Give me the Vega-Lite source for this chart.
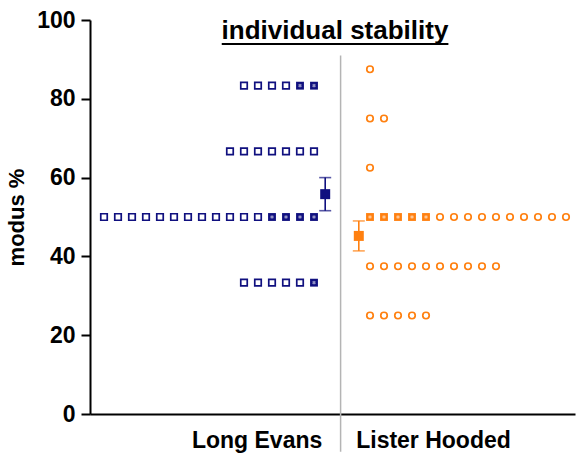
{
  "$schema": "https://vega.github.io/schema/vega-lite/v6.json",
  "width": 485,
  "height": 394,
  "autosize": {"type": "none"},
  "padding": {"left": 90, "top": 20, "right": 1, "bottom": 43},
  "background": "white",
  "config": {"view": {"stroke": null}, "font": "Liberation Sans"},
  "datasets": {
    "points": [
      {"group": "Long Evans", "slot": 11, "value": 83.33, "type": "open"},
      {"group": "Long Evans", "slot": 12, "value": 83.33, "type": "open"},
      {"group": "Long Evans", "slot": 13, "value": 83.33, "type": "open"},
      {"group": "Long Evans", "slot": 14, "value": 83.33, "type": "open"},
      {"group": "Long Evans", "slot": 15, "value": 83.33, "type": "overlap"},
      {"group": "Long Evans", "slot": 16, "value": 83.33, "type": "overlap"},
      {"group": "Long Evans", "slot": 10, "value": 66.67, "type": "open"},
      {"group": "Long Evans", "slot": 11, "value": 66.67, "type": "open"},
      {"group": "Long Evans", "slot": 12, "value": 66.67, "type": "open"},
      {"group": "Long Evans", "slot": 13, "value": 66.67, "type": "open"},
      {"group": "Long Evans", "slot": 14, "value": 66.67, "type": "open"},
      {"group": "Long Evans", "slot": 15, "value": 66.67, "type": "open"},
      {"group": "Long Evans", "slot": 16, "value": 66.67, "type": "open"},
      {"group": "Long Evans", "slot": 1, "value": 50, "type": "open"},
      {"group": "Long Evans", "slot": 2, "value": 50, "type": "open"},
      {"group": "Long Evans", "slot": 3, "value": 50, "type": "open"},
      {"group": "Long Evans", "slot": 4, "value": 50, "type": "open"},
      {"group": "Long Evans", "slot": 5, "value": 50, "type": "open"},
      {"group": "Long Evans", "slot": 6, "value": 50, "type": "open"},
      {"group": "Long Evans", "slot": 7, "value": 50, "type": "open"},
      {"group": "Long Evans", "slot": 8, "value": 50, "type": "open"},
      {"group": "Long Evans", "slot": 9, "value": 50, "type": "open"},
      {"group": "Long Evans", "slot": 10, "value": 50, "type": "open"},
      {"group": "Long Evans", "slot": 11, "value": 50, "type": "open"},
      {"group": "Long Evans", "slot": 12, "value": 50, "type": "open"},
      {"group": "Long Evans", "slot": 13, "value": 50, "type": "overlap"},
      {"group": "Long Evans", "slot": 14, "value": 50, "type": "overlap"},
      {"group": "Long Evans", "slot": 15, "value": 50, "type": "overlap"},
      {"group": "Long Evans", "slot": 16, "value": 50, "type": "overlap"},
      {"group": "Long Evans", "slot": 11, "value": 33.33, "type": "open"},
      {"group": "Long Evans", "slot": 12, "value": 33.33, "type": "open"},
      {"group": "Long Evans", "slot": 13, "value": 33.33, "type": "open"},
      {"group": "Long Evans", "slot": 14, "value": 33.33, "type": "open"},
      {"group": "Long Evans", "slot": 15, "value": 33.33, "type": "open"},
      {"group": "Long Evans", "slot": 16, "value": 33.33, "type": "overlap"},
      {"group": "Lister Hooded", "slot": 20, "value": 87.5, "type": "open"},
      {"group": "Lister Hooded", "slot": 20, "value": 75, "type": "open"},
      {"group": "Lister Hooded", "slot": 21, "value": 75, "type": "open"},
      {"group": "Lister Hooded", "slot": 20, "value": 62.5, "type": "open"},
      {"group": "Lister Hooded", "slot": 20, "value": 50, "type": "overlap"},
      {"group": "Lister Hooded", "slot": 21, "value": 50, "type": "overlap"},
      {"group": "Lister Hooded", "slot": 22, "value": 50, "type": "overlap"},
      {"group": "Lister Hooded", "slot": 23, "value": 50, "type": "overlap"},
      {"group": "Lister Hooded", "slot": 24, "value": 50, "type": "overlap"},
      {"group": "Lister Hooded", "slot": 25, "value": 50, "type": "open"},
      {"group": "Lister Hooded", "slot": 26, "value": 50, "type": "open"},
      {"group": "Lister Hooded", "slot": 27, "value": 50, "type": "open"},
      {"group": "Lister Hooded", "slot": 28, "value": 50, "type": "open"},
      {"group": "Lister Hooded", "slot": 29, "value": 50, "type": "open"},
      {"group": "Lister Hooded", "slot": 30, "value": 50, "type": "open"},
      {"group": "Lister Hooded", "slot": 31, "value": 50, "type": "open"},
      {"group": "Lister Hooded", "slot": 32, "value": 50, "type": "open"},
      {"group": "Lister Hooded", "slot": 33, "value": 50, "type": "open"},
      {"group": "Lister Hooded", "slot": 34, "value": 50, "type": "open"},
      {"group": "Lister Hooded", "slot": 20, "value": 37.5, "type": "open"},
      {"group": "Lister Hooded", "slot": 21, "value": 37.5, "type": "open"},
      {"group": "Lister Hooded", "slot": 22, "value": 37.5, "type": "open"},
      {"group": "Lister Hooded", "slot": 23, "value": 37.5, "type": "open"},
      {"group": "Lister Hooded", "slot": 24, "value": 37.5, "type": "open"},
      {"group": "Lister Hooded", "slot": 25, "value": 37.5, "type": "open"},
      {"group": "Lister Hooded", "slot": 26, "value": 37.5, "type": "open"},
      {"group": "Lister Hooded", "slot": 27, "value": 37.5, "type": "open"},
      {"group": "Lister Hooded", "slot": 28, "value": 37.5, "type": "open"},
      {"group": "Lister Hooded", "slot": 29, "value": 37.5, "type": "open"},
      {"group": "Lister Hooded", "slot": 20, "value": 25, "type": "open"},
      {"group": "Lister Hooded", "slot": 21, "value": 25, "type": "open"},
      {"group": "Lister Hooded", "slot": 22, "value": 25, "type": "open"},
      {"group": "Lister Hooded", "slot": 23, "value": 25, "type": "open"},
      {"group": "Lister Hooded", "slot": 24, "value": 25, "type": "open"}
    ],
    "means": [
      {"group": "Long Evans", "slot": 16.8, "value": 55.8, "lo": 51.6, "hi": 60.0},
      {"group": "Lister Hooded", "slot": 19.2, "value": 45.2, "lo": 41.4, "hi": 49.0}
    ]
  },
  "layer": [
    {
      "data": {"values": [{}]},
      "mark": {"type": "rule", "color": "#b4b4b4", "strokeWidth": 1.5, "clip": false},
      "encoding": {
        "x": {"datum": 17.9, "type": "quantitative", "scale": {"domain": [0, 34.643], "nice": false, "zero": false},
          "title": null,
          "axis": {"values": [11.9, 24.5], "labelExpr": "datum.value < 18 ? 'Long Evans' : 'Lister Hooded'", "ticks": false, "grid": false,
            "domainColor": "black", "domainWidth": 2, "labelFontSize": 23, "labelFontWeight": "bold", "labelColor": "black", "labelPadding": 15, "labelFont": "Liberation Sans"}},
        "y": {"datum": 91, "type": "quantitative", "scale": {"domain": [0, 100], "nice": false}, "title": "modus %",
          "axis": {"values": [0, 10, 20, 30, 40, 50, 60, 70, 80, 90, 100], "labelExpr": "datum.value % 20 == 0 ? datum.label : ''",
            "tickSize": {"condition": {"test": "datum.value % 20 == 0", "value": 9}, "value": 5},
            "tickWidth": 2, "tickColor": "black", "domainColor": "black", "domainWidth": 2, "grid": false,
            "labelFontSize": 23, "labelFontWeight": "bold", "labelColor": "black", "labelPadding": 6, "labelFont": "Liberation Sans",
            "titleFontSize": 22, "titleFontWeight": "bold", "titleColor": "black", "titlePadding": 8, "titleFont": "Liberation Sans"}},
        "y2": {"datum": -9.6}
      }
    },
    {
      "data": {"name": "points"},
      "transform": [{"filter": "datum.type == 'open'"}],
      "mark": {"type": "point", "filled": false, "strokeWidth": 1.7, "size": 42, "opacity": 1},
      "encoding": {
        "x": {"field": "slot", "type": "quantitative", "scale": {"domain": [0, 34.643], "nice": false, "zero": false}, "title": null},
        "y": {"field": "value", "type": "quantitative", "scale": {"domain": [0, 100], "nice": false}, "title": "modus %"},
        "shape": {"field": "group", "type": "nominal", "scale": {"domain": ["Long Evans", "Lister Hooded"], "range": ["square", "circle"]}, "legend": null},
        "color": {"field": "group", "type": "nominal", "scale": {"domain": ["Long Evans", "Lister Hooded"], "range": ["#10107f", "#ff8010"]}, "legend": null}
      }
    },
    {
      "data": {"name": "points"},
      "transform": [{"filter": "datum.type == 'overlap'"}],
      "mark": {"type": "point", "shape": "square", "filled": true, "size": 62, "opacity": 1},
      "encoding": {
        "x": {"field": "slot", "type": "quantitative", "scale": {"domain": [0, 34.643], "nice": false, "zero": false}, "title": null},
        "y": {"field": "value", "type": "quantitative", "scale": {"domain": [0, 100], "nice": false}, "title": "modus %"},
        "color": {"field": "group", "type": "nominal", "scale": {"domain": ["Long Evans", "Lister Hooded"], "range": ["#10107f", "#ff8010"]}, "legend": null}
      }
    },
    {
      "data": {"name": "points"},
      "transform": [{"filter": "datum.type == 'overlap'"}],
      "mark": {"type": "point", "shape": "cross", "angle": 45, "filled": true, "size": 14, "color": "white", "opacity": 0.55},
      "encoding": {
        "x": {"field": "slot", "type": "quantitative", "scale": {"domain": [0, 34.643], "nice": false, "zero": false}, "title": null},
        "y": {"field": "value", "type": "quantitative", "scale": {"domain": [0, 100], "nice": false}, "title": "modus %"}
      }
    },
    {
      "data": {"name": "means"},
      "mark": {"type": "rule", "strokeWidth": 1.6},
      "encoding": {
        "x": {"field": "slot", "type": "quantitative", "scale": {"domain": [0, 34.643], "nice": false, "zero": false}, "title": null},
        "y": {"field": "lo", "type": "quantitative", "scale": {"domain": [0, 100], "nice": false}, "title": "modus %"},
        "y2": {"field": "hi"},
        "color": {"field": "group", "type": "nominal", "scale": {"domain": ["Long Evans", "Lister Hooded"], "range": ["#10107f", "#ff8010"]}, "legend": null}
      }
    },
    {
      "data": {"name": "means"},
      "mark": {"type": "tick", "orient": "horizontal", "size": 12, "thickness": 1.6},
      "encoding": {
        "x": {"field": "slot", "type": "quantitative", "scale": {"domain": [0, 34.643], "nice": false, "zero": false}, "title": null},
        "y": {"field": "lo", "type": "quantitative", "scale": {"domain": [0, 100], "nice": false}, "title": "modus %"},
        "color": {"field": "group", "type": "nominal", "scale": {"domain": ["Long Evans", "Lister Hooded"], "range": ["#10107f", "#ff8010"]}, "legend": null}
      }
    },
    {
      "data": {"name": "means"},
      "mark": {"type": "tick", "orient": "horizontal", "size": 12, "thickness": 1.6},
      "encoding": {
        "x": {"field": "slot", "type": "quantitative", "scale": {"domain": [0, 34.643], "nice": false, "zero": false}, "title": null},
        "y": {"field": "hi", "type": "quantitative", "scale": {"domain": [0, 100], "nice": false}, "title": "modus %"},
        "color": {"field": "group", "type": "nominal", "scale": {"domain": ["Long Evans", "Lister Hooded"], "range": ["#10107f", "#ff8010"]}, "legend": null}
      }
    },
    {
      "data": {"name": "means"},
      "mark": {"type": "point", "shape": "square", "filled": true, "size": 100, "opacity": 1},
      "encoding": {
        "x": {"field": "slot", "type": "quantitative", "scale": {"domain": [0, 34.643], "nice": false, "zero": false}, "title": null},
        "y": {"field": "value", "type": "quantitative", "scale": {"domain": [0, 100], "nice": false}, "title": "modus %"},
        "color": {"field": "group", "type": "nominal", "scale": {"domain": ["Long Evans", "Lister Hooded"], "range": ["#10107f", "#ff8010"]}, "legend": null}
      }
    },
    {
      "data": {"values": [{}]},
      "mark": {"type": "text", "text": "individual stability", "fontSize": 26, "fontWeight": "bold", "font": "Liberation Sans", "color": "black", "align": "center", "baseline": "alphabetic", "clip": false},
      "encoding": {
        "x": {"datum": 17.5, "type": "quantitative", "scale": {"domain": [0, 34.643], "nice": false, "zero": false}},
        "y": {"datum": 95.1, "type": "quantitative", "scale": {"domain": [0, 100], "nice": false}}
      }
    },
    {
      "data": {"values": [{}]},
      "mark": {"type": "rule", "color": "black", "strokeWidth": 2, "clip": false},
      "encoding": {
        "x": {"datum": 9.41, "type": "quantitative", "scale": {"domain": [0, 34.643], "nice": false, "zero": false}},
        "x2": {"datum": 25.6},
        "y": {"datum": 93.9, "type": "quantitative", "scale": {"domain": [0, 100], "nice": false}}
      }
    }
  ]
}
